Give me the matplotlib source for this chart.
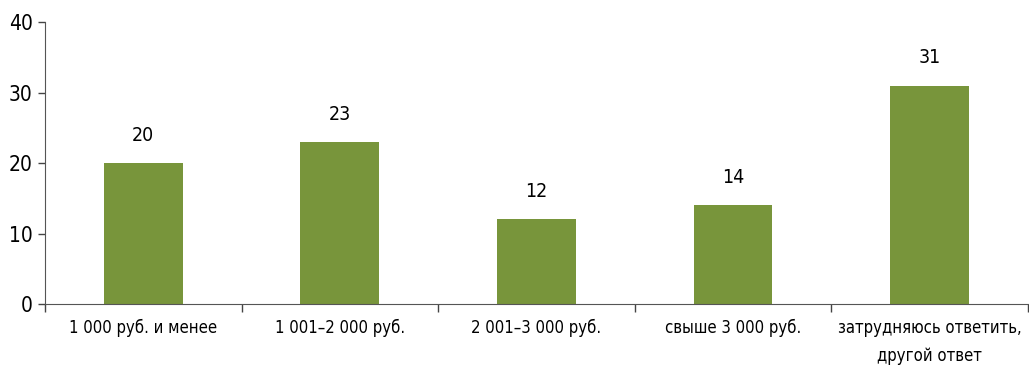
import matplotlib.pyplot as plt
import numpy as np

categories = ["1 000 руб. и менее", "1 001–2 000 руб.", "2 001–3 000 руб.",
              "свыше 3 000 руб.", "затрудняюсь ответить,\nдругой ответ"]
values = [20, 23, 12, 14, 31]

plt.rcParams['font.family'] = ['DejaVu Sans']
plt.rcParams['font.stretch'] = 'condensed'

fig = plt.figure(figsize=(10.29, 3.69), dpi=100)
ax = fig.add_axes([0.0437, 0.176, 0.955, 0.764])

x = np.arange(len(categories))
ax.bar(x, values, width=0.4, color='#78953b', zorder=2)
for xi, v in zip(x, values):
    ax.text(xi, v + 2.6, str(v), ha='center', va='bottom', fontsize=14)

ax.set_xlim(-0.5, len(categories) - 0.5)
ax.set_ylim(0, 40)
ax.set_yticks([0, 10, 20, 30, 40])
ax.tick_params(axis='y', labelsize=15, length=5, width=1, color='#444444', pad=4)

ax.set_xticks(x)
ax.set_xticklabels(categories, fontsize=12, linespacing=1.7)
ax.tick_params(axis='x', length=0, pad=11)
ax.set_xticks(np.arange(-0.5, len(categories), 1), minor=True)
ax.tick_params(axis='x', which='minor', length=6, width=1, color='#444444')

for s in ['top', 'right']:
    ax.spines[s].set_visible(False)
for s in ['left', 'bottom']:
    ax.spines[s].set_color('#555555')

fig.savefig('out.png', dpi=100)
